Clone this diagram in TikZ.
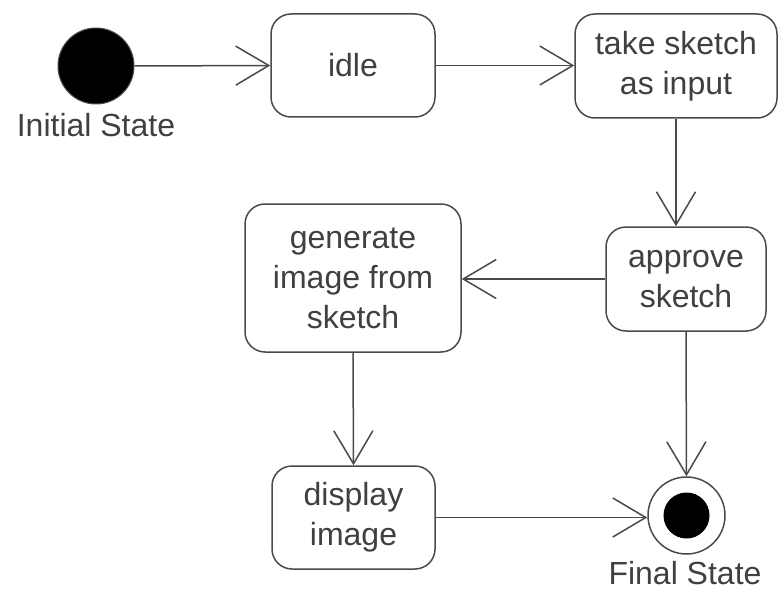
\documentclass[tikz,border=0pt]{standalone}
\usepackage{fontspec}
\setmainfont{Liberation Sans}
\usetikzlibrary{arrows.meta}
\definecolor{txt}{HTML}{404040}
\definecolor{ln}{HTML}{4A4A4A}
\tikzset{
  state/.style={draw=ln, line width=1.5pt, rounded corners=20pt, fill=white,
    align=center, text=txt, inner sep=0pt,
    font=\fontsize{32}{40}\selectfont},
  lbl/.style={text=txt, inner sep=0pt, anchor=base, font=\fontsize{32}{40}\selectfont},
  conn/.style={draw=ln, line width=1.5pt,
    -{Straight Barb[length=33pt,width=39pt,line width=1.5pt]}},
}
\begin{document}
\begin{tikzpicture}[x=1pt,y=-1pt]
\useasboundingbox[fill=white] (0,0) rectangle (779,591);
% initial state
\node[circle, fill=black, draw=ln, line width=1pt, minimum size=76pt, inner sep=0pt] (init) at (96,66) {};
\node[lbl] (initlbl) at (96,136) {Initial State};
% activities
\node[state, minimum width=164pt, minimum height=103pt] (idle) at (353,65.5) {idle};
\node[state, minimum width=202pt, minimum height=104pt] (take) at (676,66) {take sketch\\as input};
\node[state, minimum width=160pt, minimum height=104pt] (approve) at (686,279) {approve\\sketch};
\node[state, minimum width=216pt, minimum height=148pt] (gen) at (353,278) {generate\\image from\\sketch};
\node[state, minimum width=163pt, minimum height=103pt] (disp) at (353.5,517.5) {display\\image};
% final state
\node[circle, draw=ln, line width=1.5pt, fill=white, minimum size=77pt, inner sep=0pt] (final) at (686.5,515.5) {};
\node[circle, fill=black, minimum size=46pt, inner sep=0pt] (finalin) at (final) {};
\node[lbl] (finallbl) at (685,584) {Final State};
% connectors
\draw[conn] (init.east) -- (idle.west);
\draw[conn] (idle.east) -- (take.west |- idle.east);
\draw[conn] (take.south) -- (take.south |- approve.north);
\draw[conn] (approve.west) -- (approve.west -| gen.east);
\draw[conn] (approve.south) -- (final.north);
\draw[conn] (gen.south) -- (disp.north);
\draw[conn] (disp.east) -- (final.west |- disp.east);
\end{tikzpicture}
\end{document}
